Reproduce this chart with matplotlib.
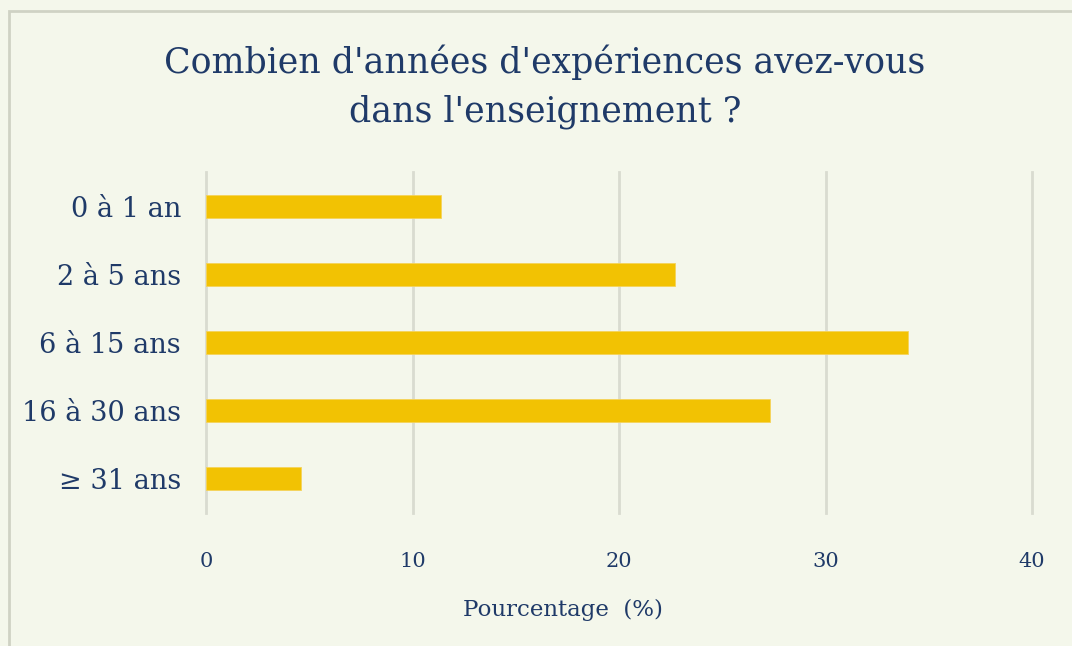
import matplotlib.pyplot as plt
from matplotlib.patches import Rectangle

# ----------------- DATA -----------------
categories = ["0 à 1 an", "2 à 5 ans", "6 à 15 ans", "16 à 30 ans", "≥ 31 ans"]
percent = [11.4, 22.7, 34.0, 27.3, 4.6]
xticks = [0, 10, 20, 30, 40]
title_lines = ["Combien d'années d'expériences avez-vous", "dans l'enseignement ?"]

bg = "#f4f7eb"
bar_color = "#f2c203"
text_color = "#1f3a68"
grid_color = "#d9dbd0"

plt.rcParams['font.family'] = ['DejaVu Serif']

W, H = 1072, 646
fig = plt.figure(figsize=(W / 100, H / 100), dpi=100, facecolor=bg)
ax = fig.add_axes([206 / W, 1 - 513 / H, (1032 - 206) / W, (513 - 172) / H], facecolor=bg)

y = list(range(len(categories)))
ax.barh(y, percent, height=0.34, color=bar_color, edgecolor="#f5d35a", linewidth=0.6, zorder=3)

ax.set_ylim(len(categories) - 0.5, -0.5)
ax.set_xlim(0, 40)
ax.set_yticks(y)
ax.set_yticklabels(categories, fontsize=19.5, color=text_color)
ax.set_xticks(xticks)
ax.set_xticklabels([str(t) for t in xticks], fontsize=15, color=text_color)
ax.tick_params(axis='both', length=0)
ax.tick_params(axis='x', pad=28)
ax.tick_params(axis='y', pad=18)
ax.grid(axis='x', color=grid_color, linewidth=2, zorder=0)
for gl in ax.get_xgridlines():
    gl.set_clip_on(False)
for s in ax.spines.values():
    s.set_visible(False)

fig.text(563 / W, 1 - 610 / H, "Pourcentage  (%)", ha='center', va='center',
         fontsize=16.5, color=text_color)

fig.text(545 / W, 1 - 62 / H, title_lines[0], ha='center', va='center',
         fontsize=25, color=text_color)
fig.text(545 / W, 1 - 112 / H, title_lines[1], ha='center', va='center',
         fontsize=25, color=text_color)

# outer frame
fig.patches.append(Rectangle((9 / W, -0.1), 1.2, 1 - 11 / H + 0.1, transform=fig.transFigure,
                             fill=False, edgecolor="#cfd2c4", linewidth=2))

fig.savefig("out.png", dpi=100, facecolor=bg)
